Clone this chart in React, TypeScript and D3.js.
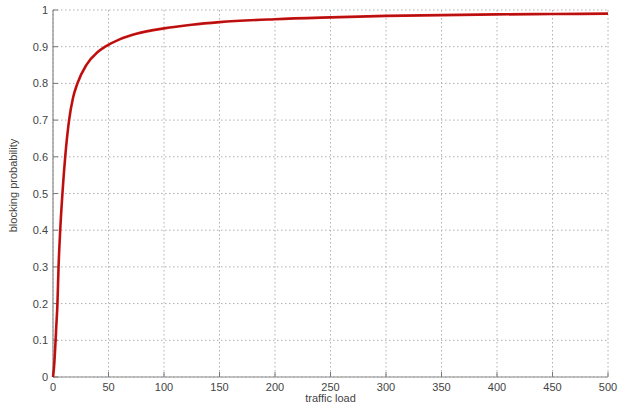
import React from "react";
import * as d3 from "d3";

const loads = [0, 1, 2, 3, 4, 5, 6.5, 8.5, 11, 14.5, 18, 22, 30, 40, 47, 60, 75, 100, 125, 150, 200, 250, 300, 350, 400, 450, 500];
const blocking = [0, 0.03, 0.08, 0.14, 0.2, 0.3, 0.4, 0.5, 0.6, 0.7, 0.76, 0.8, 0.85, 0.885, 0.9, 0.92, 0.935, 0.95, 0.96, 0.967, 0.975, 0.98, 0.984, 0.986, 0.988, 0.989, 0.99];
const xTicks = [0, 50, 100, 150, 200, 250, 300, 350, 400, 450, 500];
const yTicks = [0, 0.1, 0.2, 0.3, 0.4, 0.5, 0.6, 0.7, 0.8, 0.9, 1];

export default function App() {
  const W = 629, H = 408;
  const left = 53, right = 608, top = 10, bottom = 377;
  const x = d3.scaleLinear().domain([0, 500]).range([left, right]);
  const y = d3.scaleLinear().domain([0, 1]).range([bottom, top]);
  const pts = loads.map((l, i) => [l, blocking[i]] as [number, number]);
  const line = d3.line<[number, number]>().x(d => x(d[0])).y(d => y(d[1])).curve(d3.curveMonotoneX);
  const font = "Arial, 'Liberation Sans', sans-serif";
  return (
    <svg width={W} height={H} style={{ position: "absolute", left: 0, top: 0, background: "#fff" }}>
      {xTicks.map(t => (
        <line key={"gx" + t} x1={x(t)} x2={x(t)} y1={top} y2={bottom} stroke="#b0b0b0" strokeWidth={1} strokeDasharray="1.5,2.5" />
      ))}
      {yTicks.map(t => (
        <line key={"gy" + t} x1={left} x2={right} y1={y(t)} y2={y(t)} stroke="#b0b0b0" strokeWidth={1} strokeDasharray="1.5,2.5" />
      ))}
      <line x1={left} x2={right} y1={bottom} y2={bottom} stroke="#8a8a8a" strokeWidth={1.2} />
      <line x1={left} x2={left} y1={top} y2={bottom} stroke="#8a8a8a" strokeWidth={1.2} />
      {xTicks.map(t => (
        <g key={"xt" + t}>
          <line x1={x(t)} x2={x(t)} y1={bottom} y2={bottom - 5} stroke="#777" strokeWidth={1} />
          <text x={x(t)} y={bottom + 14} textAnchor="middle" fontSize={11} fill="#444" fontFamily={font}>{t}</text>
        </g>
      ))}
      {yTicks.map(t => (
        <g key={"yt" + t}>
          <line x1={left} x2={left + 5} y1={y(t)} y2={y(t)} stroke="#777" strokeWidth={1} />
          <text x={left - 5} y={y(t) + 4} textAnchor="end" fontSize={11} fill="#444" fontFamily={font}>{t}</text>
        </g>
      ))}
      <path d={line(pts) || ""} fill="none" stroke="#d01010" strokeWidth={2.6} />
      <path d={line(pts) || ""} fill="none" stroke="#7a1010" strokeWidth={0.8} opacity={0.6} />
      <text x={(left + right) / 2} y={402} textAnchor="middle" fontSize={11} fill="#444" fontFamily={font}>traffic load</text>
      <text transform={`translate(17, ${(top + bottom) / 2 - 8}) rotate(-90)`} textAnchor="middle" fontSize={11} fill="#444" fontFamily={font}>blocking probability</text>
    </svg>
  );
}
